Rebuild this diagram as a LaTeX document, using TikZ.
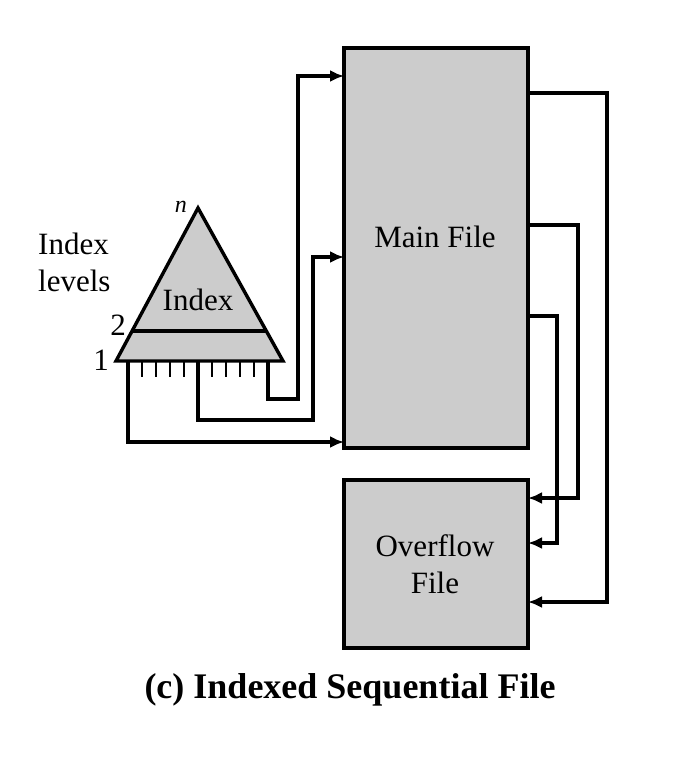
\documentclass[tikz,border=0pt]{standalone}
\usepackage{fontspec}
\setmainfont{Liberation Serif}
\usetikzlibrary{arrows.meta,calc}
\definecolor{boxgrey}{HTML}{CCCCCC}
\begin{document}
\begin{tikzpicture}[x=1pt,y=-1pt,
  box/.style={draw=black,line width=3.4pt,fill=boxgrey,inner sep=0pt,outer sep=0pt},
  conn/.style={draw=black,line width=3.2pt,-{Latex[length=14pt,width=12pt]}},
  wire/.style={draw=black,line width=3.4pt},
  lbl/.style={inner sep=0pt,font=\fontsize{31}{37}\selectfont}]
\useasboundingbox (0,0) rectangle (692,758);
% boxes
\node[box,minimum width=184pt,minimum height=400pt] (main) at (436,248) {};
\node[lbl] (mainlbl) at (435,237) {Main File};
\node[box,minimum width=184pt,minimum height=168pt] (ovf) at (436,564) {};
\node[lbl,align=center] (ovflbl) at (435,564) {Overflow\\File};
% triangle
\coordinate (apex) at (198,208);
\coordinate (bl) at (116,361);
\coordinate (br) at (283,361);
\draw[wire,fill=boxgrey,line join=miter] (apex) -- (br) -- (bl) -- cycle;
\coordinate (l2a) at ($(bl)!30/153!(apex)$);
\coordinate (l2b) at ($(br)!30/153!(apex)$);
\draw[wire] (l2a) -- (l2b);
% ticks
\foreach \k in {0,...,10} {
  \coordinate (t\k) at ({128+14*\k},361);
  \draw[black,line width=2.6pt] (t\k) -- ++(0,16);
}
% labels
\node[lbl] (idx) at (198,300) {Index};
\node[lbl,anchor=south east,font=\fontsize{24}{28}\selectfont] (ln) at (187,213) {\itshape n};
\node[lbl] (l2) at (118,325) {2};
\node[lbl] (l1) at (101,360) {1};
\node[lbl,anchor=west,align=left] (levels) at (38,262) {Index\\levels};
% connectors from index
\draw[conn] (t0) -- (128,442) -- (main.west |- 0,442);
\draw[conn] (t5) -- (198,420) -- (313,420) -- (313,257) -- (main.west |- 0,257);
\draw[conn] (t10) -- (268,399) -- (298,399) -- (298,76) -- (main.west |- 0,76);
% main to overflow
\draw[conn] (main.east |- 0,93) -- (607,93) -- (607,602) -- (ovf.east |- 0,602);
\draw[conn] (main.east |- 0,225) -- (578,225) -- (578,498) -- (ovf.east |- 0,498);
\draw[conn] (main.east |- 0,316) -- (557,316) -- (557,543) -- (ovf.east |- 0,543);
% caption
\node[inner sep=0pt,font=\bfseries\fontsize{36}{40}\selectfont] (cap) at (350,690) {(c) Indexed Sequential File};
\end{tikzpicture}
\end{document}
